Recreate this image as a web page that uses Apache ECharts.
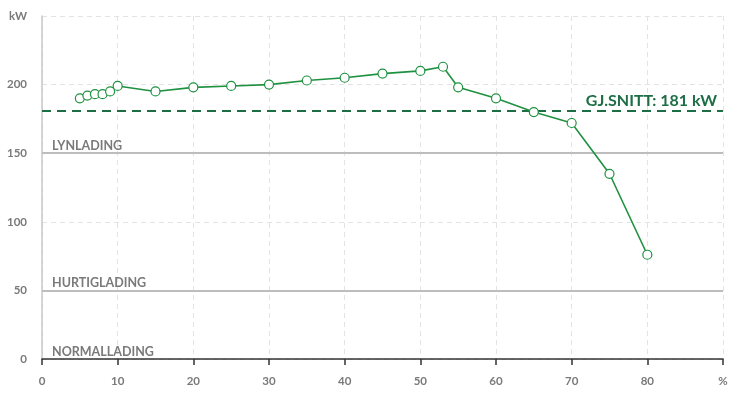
<!DOCTYPE html>
<html><head><meta charset="utf-8">
<script src="https://cdn.jsdelivr.net/npm/echarts@6/dist/echarts.min.js"></script>
<style>html,body{margin:0;padding:0;background:#fff}#c{width:741px;height:411px}</style>
</head><body><div id="c"></div>
<script>
const socPercent = [5,6,7,8,9,10,15,20,25,30,35,40,45,50,53,55,60,65,70,75,80];
const powerKW = [190,192,193,193,195,199,195,198,199,200,203,205,208,210,213,198,190,180,172,135,76];
const averageKW = 181;
const averageLabel = 'GJ.SNITT: 181 kW';
const levelValues = [0,50,150];
const levelNames = ['NORMALLADING','HURTIGLADING','LYNLADING'];
const xUnitLabel = '%';
const yUnitLabel = 'kW';

const gray = '#7a7a7a';
const font = 'Lato';
const chart = echarts.init(document.getElementById('c'), null, {renderer:'canvas'});
const levelLines = levelValues.map((v,i)=>({
  yAxis: v,
  lineStyle:{color: v===0 ? 'transparent' : '#bdbdbd', width:2, type:'solid'},
  label:{show:true, position:'insideStartTop', formatter: levelNames[i], color:gray, fontWeight:'bold', fontSize:12.5, fontFamily:font, distance:[10,1]}
}));
chart.setOption({
  animation:false,
  grid:{left:42, right:18, top:16, bottom:52},
  xAxis:{type:'value', min:0, max:90, interval:10,
    axisLine:{show:true, lineStyle:{color:'#333', width:1.5}},
    axisTick:{show:true, length:6, lineStyle:{color:'#333', width:1.5}},
    axisLabel:{color:gray, fontWeight:'bold', fontSize:11.5, fontFamily:font, margin:16,
      formatter:v=> v===90 ? xUnitLabel : String(v)},
    splitLine:{show:true, lineStyle:{color:'#e3e3e3', type:[5,4], width:1}}
  },
  yAxis:{type:'value', min:0, max:250, interval:50,
    axisLine:{show:true, lineStyle:{color:'#c8c8c8', width:1.5}},
    axisTick:{show:false},
    axisLabel:{color:gray, fontWeight:'bold', fontSize:11.5, fontFamily:font, margin:15,
      formatter:v=> v===250 ? yUnitLabel : String(v)},
    splitLine:{show:true, lineStyle:{color:'#e3e3e3', type:[5,4], width:1}}
  },
  series:[
    {type:'line', data: levelValues.map(()=>null), silent:true, symbol:'none',
      markLine:{silent:true, symbol:'none', data: levelLines}},
    {type:'line', data: socPercent.map((x,i)=>[x, powerKW[i]]),
      lineStyle:{color:'#1f9140', width:1.6},
      itemStyle:{color:'#fff', borderColor:'#1f9140', borderWidth:1.2},
      symbol:'circle', symbolSize:9, showSymbol:true, z:5,
      markLine:{silent:true, symbol:'none',
        data:[{yAxis: averageKW}],
        lineStyle:{color:'#1d6e45', width:2, type:[9,6]},
        label:{show:true, position:'insideEndTop', formatter: averageLabel, color:'#1d6e45', fontWeight:'bold', fontSize:16, fontFamily:font, distance:[6,2]}
      }}
  ]
});
</script></body></html>
